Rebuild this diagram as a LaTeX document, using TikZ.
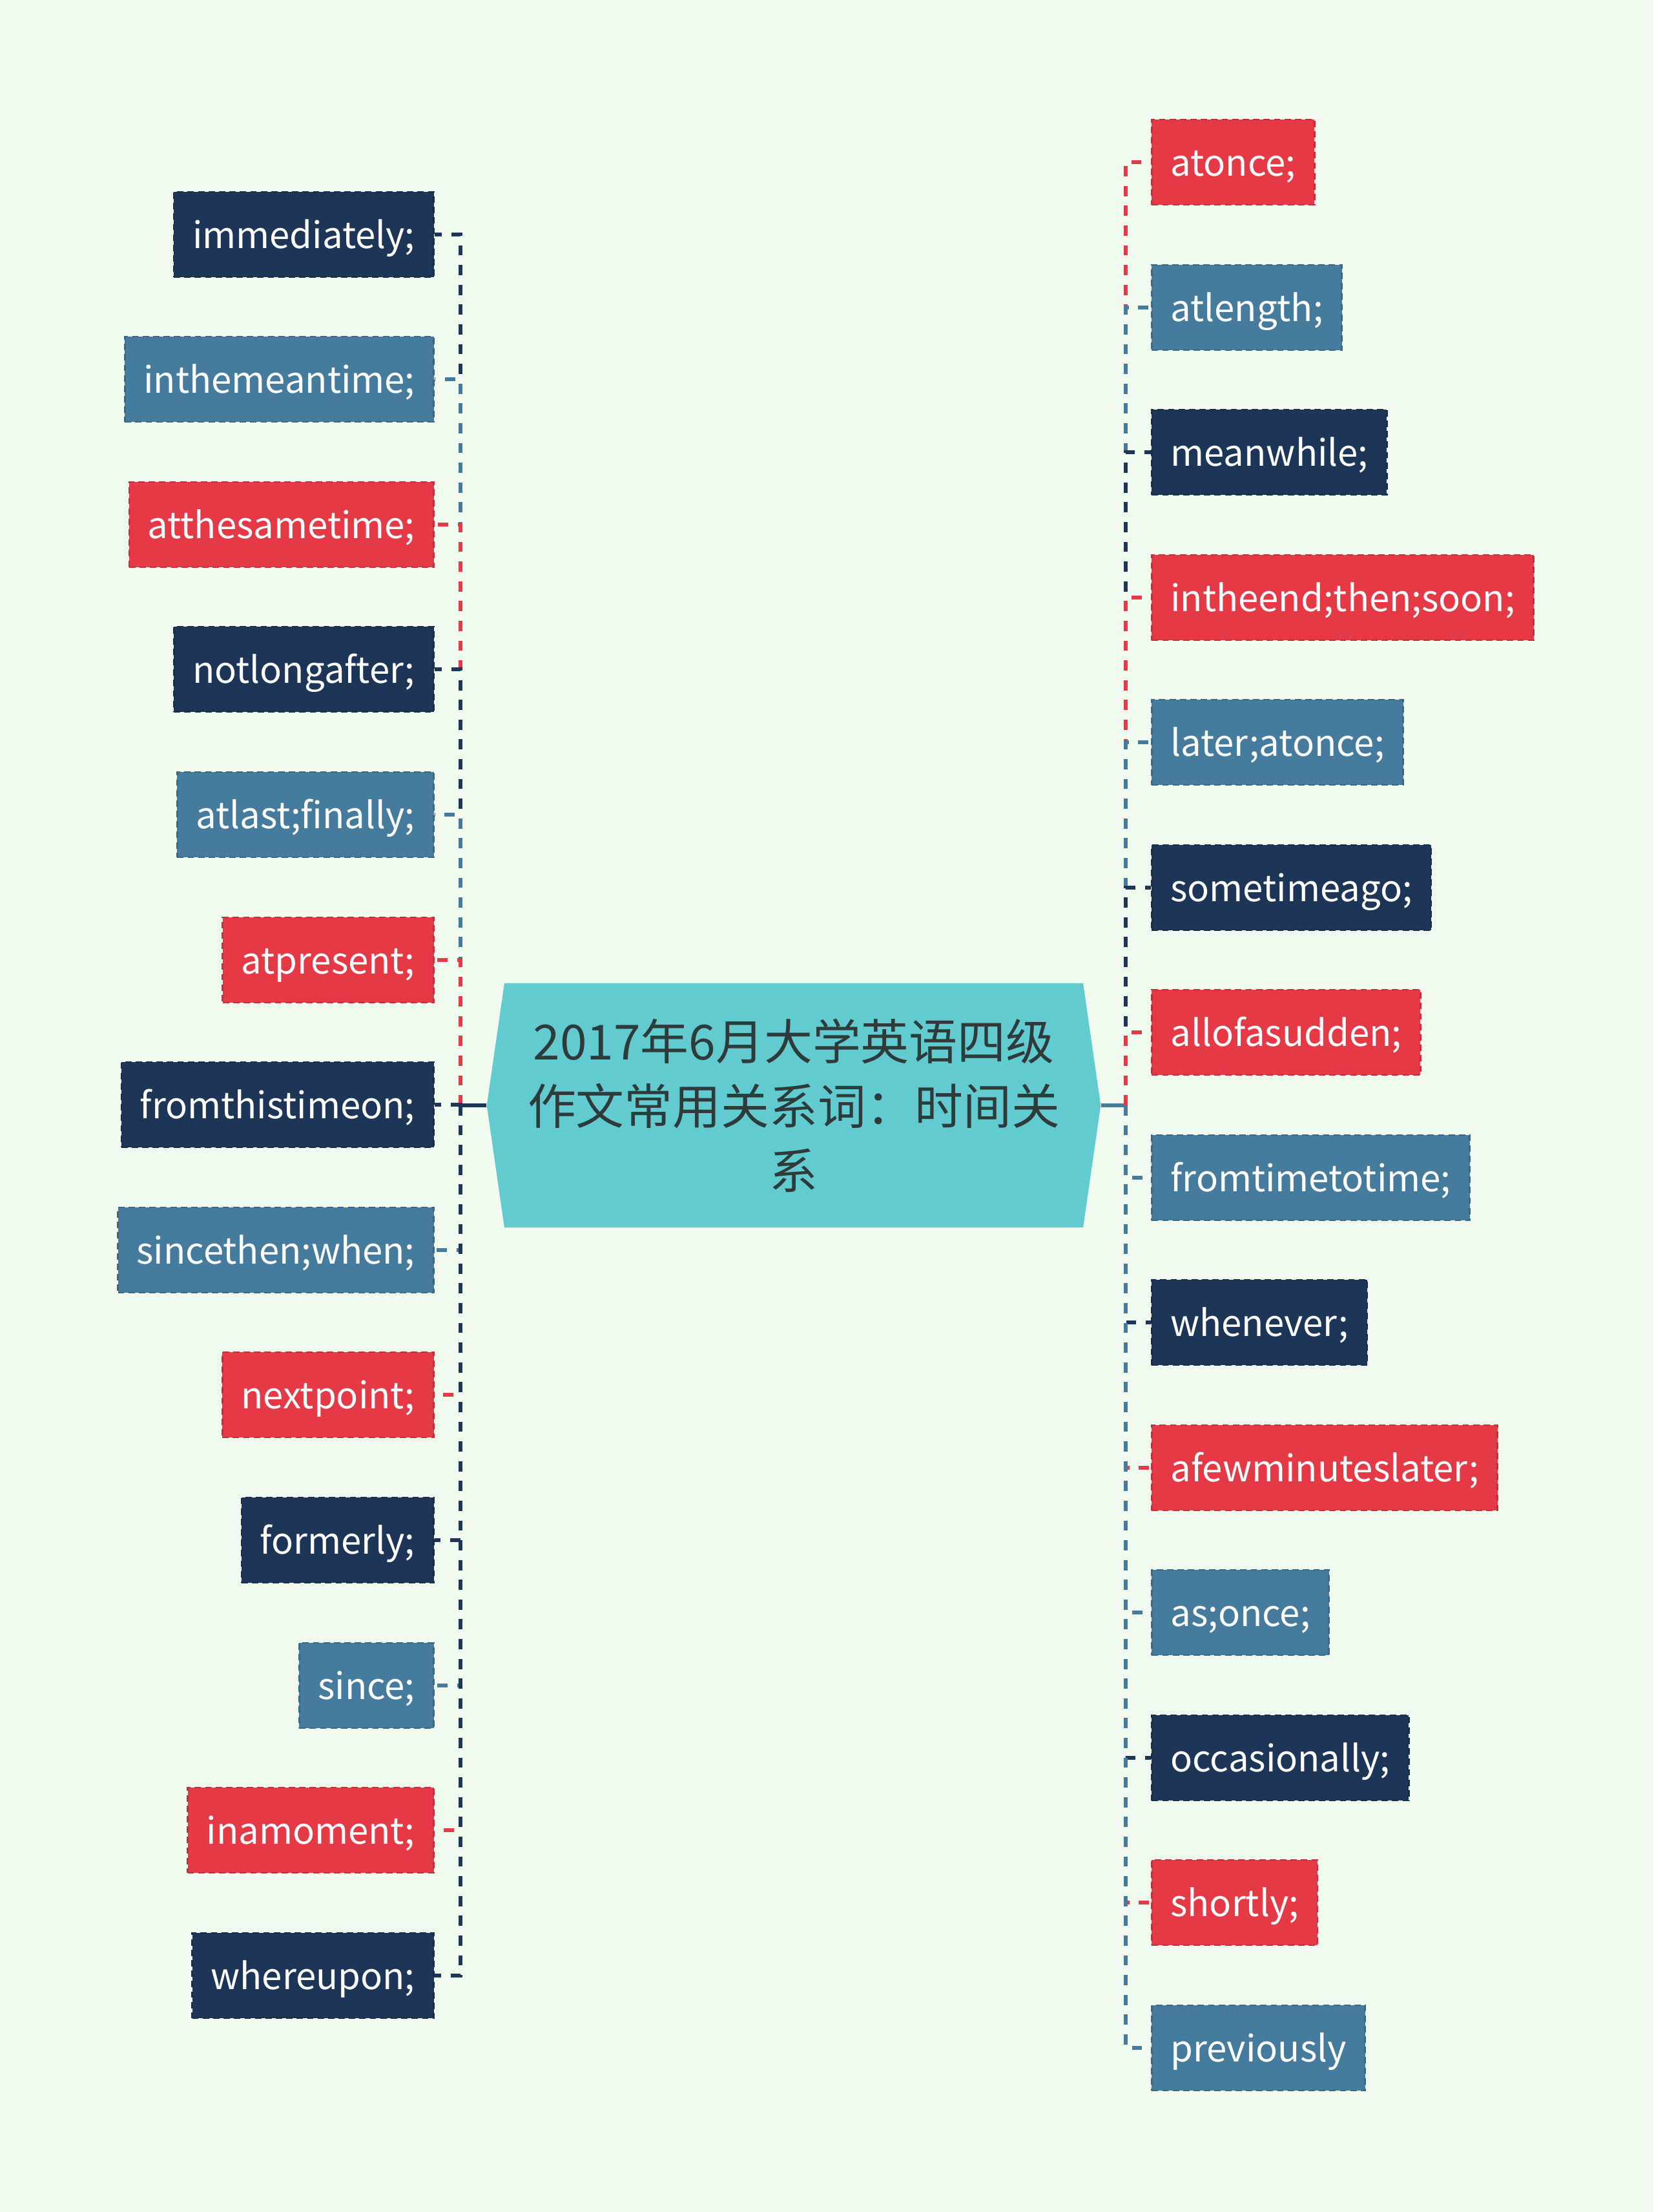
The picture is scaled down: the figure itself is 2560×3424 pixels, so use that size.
\documentclass[tikz,border=0pt]{standalone}
\usepackage{fontspec}
\setmainfont{Noto Sans CJK SC}
\usetikzlibrary{shapes.symbols}

\definecolor{bgcol}{HTML}{F1FAEE}
\definecolor{navyc}{HTML}{1D3557}
\definecolor{steelc}{HTML}{457B9D}
\definecolor{redc}{HTML}{E63946}
\definecolor{rootfill}{HTML}{62CBD0}
\definecolor{inkc}{HTML}{2F3A3B}

\tikzset{
	leaf/.style={rectangle, text=white, minimum height=1.32cm, inner xsep=0.29cm, inner ysep=0pt,
		text height=0.55cm, text depth=0.13cm,
		font=\fontsize{16}{20}\selectfont, line width=0.8pt, dash pattern=on 2.8pt off 1.8pt},
	navyleaf/.style={leaf, fill=navyc, draw=navyc!85!black},
	steelleaf/.style={leaf, fill=steelc, draw=steelc!85!black},
	redleaf/.style={leaf, fill=redc, draw=redc!85!black},
	link/.style={line width=1.9pt, dash pattern=on 4.5pt off 4.2pt},
	stub/.style={line width=1.9pt},
}

\begin{document}
\begin{tikzpicture}[x=0.01cm, y=-0.01cm]
				\fill[bgcol] (0,0) rectangle (2560,3424);
				
				\node (root) [signal, signal to=west and east, signal pointer angle=163.6, fill=rootfill, text=inkc,
					minimum width=9.5cm, minimum height=3.78cm, inner sep=0pt, align=center,
					font=\fontsize{21.3}{28.5}\selectfont] at (1229,1711) {2017年6月大学英语四级\\作文常用关系词：时间关\\系};
				
				\coordinate (lt) at (713,1711);
				\coordinate (rt) at (1743,1711);
				
				% left side
				\node (l1) [navyleaf, anchor=east] at (673,363) {immediately;};
				\node (l2) [steelleaf, anchor=east] at (673,587) {inthemeantime;};
				\node (l3) [redleaf, anchor=east] at (673,812) {atthesametime;};
				\node (l4) [navyleaf, anchor=east] at (673,1036) {notlongafter;};
				\node (l5) [steelleaf, anchor=east] at (673,1261) {atlast;finally;};
				\node (l6) [redleaf, anchor=east] at (673,1486) {atpresent;};
				\node (l7) [navyleaf, anchor=east] at (673,1710) {fromthistimeon;};
				\node (l8) [steelleaf, anchor=east] at (673,1935) {sincethen;when;};
				\node (l9) [redleaf, anchor=east] at (673,2159) {nextpoint;};
				\node (l10) [navyleaf, anchor=east] at (673,2384) {formerly;};
				\node (l11) [steelleaf, anchor=east] at (673,2609) {since;};
				\node (l12) [redleaf, anchor=east] at (673,2833) {inamoment;};
				\node (l13) [navyleaf, anchor=east] at (673,3058) {whereupon;};
				
				% right side
				\node (r1) [redleaf, anchor=west] at (1782,251) {atonce;};
				\node (r2) [steelleaf, anchor=west] at (1782,476) {atlength;};
				\node (r3) [navyleaf, anchor=west] at (1782,700) {meanwhile;};
				\node (r4) [redleaf, anchor=west] at (1782,925) {intheend;then;soon;};
				\node (r5) [steelleaf, anchor=west] at (1782,1149) {later;atonce;};
				\node (r6) [navyleaf, anchor=west] at (1782,1374) {sometimeago;};
				\node (r7) [redleaf, anchor=west] at (1782,1598) {allofasudden;};
				\node (r8) [steelleaf, anchor=west] at (1782,1823) {fromtimetotime;};
				\node (r9) [navyleaf, anchor=west] at (1782,2047) {whenever;};
				\node (r10) [redleaf, anchor=west] at (1782,2272) {afewminuteslater;};
				\node (r11) [steelleaf, anchor=west] at (1782,2496) {as;once;};
				\node (r12) [navyleaf, anchor=west] at (1782,2721) {occasionally;};
				\node (r13) [redleaf, anchor=west] at (1782,2945) {shortly;};
				\node (r14) [steelleaf, anchor=west] at (1782,3170) {previously};
				
				% Lines
				\draw[stub, navyc] (root.west) -- (lt);
				\draw[stub, steelc] (root.east) -- (rt);
				
				\draw[link, navyc] (lt) |- (l1.east);
				\draw[link, steelc] (lt) |- (l2.east);
				\draw[link, redc] (lt) |- (l3.east);
				\draw[link, navyc] (lt) |- (l4.east);
				\draw[link, steelc] (lt) |- (l5.east);
				\draw[link, redc] (lt) |- (l6.east);
				\draw[link, navyc] (lt) |- (l7.east);
				\draw[link, steelc] (lt) |- (l8.east);
				\draw[link, redc] (lt) |- (l9.east);
				\draw[link, navyc] (lt) |- (l10.east);
				\draw[link, steelc] (lt) |- (l11.east);
				\draw[link, redc] (lt) |- (l12.east);
				\draw[link, navyc] (lt) |- (l13.east);
				
				\draw[link, redc] (rt) |- (r1.west);
				\draw[link, steelc] (rt) |- (r2.west);
				\draw[link, navyc] (rt) |- (r3.west);
				\draw[link, redc] (rt) |- (r4.west);
				\draw[link, steelc] (rt) |- (r5.west);
				\draw[link, navyc] (rt) |- (r6.west);
				\draw[link, redc] (rt) |- (r7.west);
				\draw[link, steelc] (rt) |- (r8.west);
				\draw[link, navyc] (rt) |- (r9.west);
				\draw[link, redc] (rt) |- (r10.west);
				\draw[link, steelc] (rt) |- (r11.west);
				\draw[link, navyc] (rt) |- (r12.west);
				\draw[link, redc] (rt) |- (r13.west);
				\draw[link, steelc] (rt) |- (r14.west);
				
			\end{tikzpicture}
\end{document}
